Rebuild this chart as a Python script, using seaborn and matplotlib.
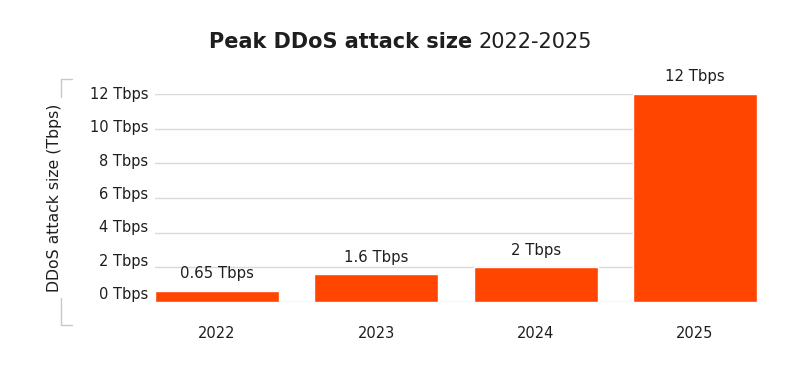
import matplotlib
matplotlib.use("Agg")
import matplotlib.pyplot as plt
import matplotlib.transforms as mtransforms
from matplotlib.lines import Line2D
import seaborn as sns
import pandas as pd

years = ["2022", "2023", "2024", "2025"]
values = [0.65, 1.6, 2, 12]
bar_labels = ["0.65 Tbps", "1.6 Tbps", "2 Tbps", "12 Tbps"]
yticks = [0, 2, 4, 6, 8, 10, 12]
ytick_labels = ["0 Tbps", "2 Tbps", "4 Tbps", "6 Tbps", "8 Tbps", "10 Tbps", "12 Tbps"]

sns.set_style("white")
plt.rcParams['font.family'] = ['DejaVu Sans']
TXT = "#1e1e1e"

df = pd.DataFrame({"year": years, "value": values})

W, H = 800, 369
fig = plt.figure(figsize=(W / 100, H / 100), dpi=100)
ax = fig.add_axes([155 / W, 1 - 302 / H, (757 - 155) / W, (302 - 94) / H])

sns.barplot(data=df, x="year", y="value", color="#FF4500", saturation=1,
            width=0.78, ax=ax, zorder=3)
ax.set_xlim(-0.39, 3.39)
ax.set_ylim(0, 12)
ax.set_yticks(yticks)
ax.set_yticklabels(ytick_labels)
ax.grid(axis="y", color="#d9d9d9", linewidth=1, zorder=0)
ax.set_axisbelow(True)
for s in ax.spines.values():
    s.set_visible(False)
ax.tick_params(axis="both", length=0, labelsize=10.5, colors=TXT)
ax.tick_params(axis="y", pad=5)
ax.tick_params(axis="x", pad=17)
ax.set_xlabel("")

# slight upward shift of tick labels as in reference
for v, lab in zip(yticks, ax.get_yticklabels()):
    shift = (1 + (12 - v) / 12 * 8) / 100
    lab.set_transform(lab.get_transform() + mtransforms.ScaledTranslation(0, shift, fig.dpi_scale_trans))

for i, (v, t) in enumerate(zip(values, bar_labels)):
    ax.annotate(t, (i, v), xytext=(0, 17), textcoords="offset pixels",
                ha="center", va="center", fontsize=10.7, color=TXT, annotation_clip=False)

ax.set_ylabel("DDoS attack size (Tbps)", fontsize=11.3, color=TXT, labelpad=0,
              bbox=dict(facecolor="white", edgecolor="none", pad=4))
ax.yaxis.set_label_coords(62 / W, 1 - 198 / H, transform=fig.transFigure)

# bracket
bc = "#c8c8c8"
x0, x1 = 61 / W, 72 / W
yt, yb = 1 - 79 / H, 1 - 325 / H
for xs, ys in [([x0, x0], [yb, yt]), ([x0, x1], [yt, yt]), ([x0, x1], [yb, yb])]:
    fig.add_artist(Line2D(xs, ys, color=bc, linewidth=1, transform=fig.transFigure, zorder=-1))

# title with bold and regular parts
fig.canvas.draw()
r = fig.canvas.get_renderer()
t1 = fig.text(209 / W, 1 - 42 / H, "Peak DDoS attack size", fontsize=15, fontweight="bold",
              color=TXT, ha="left", va="center")
bb = t1.get_window_extent(renderer=r)
fig.text(bb.x1 / W + 6 / W, 1 - 42 / H, "2022-2025", fontsize=15, color=TXT,
         ha="left", va="center")

fig.savefig("out.png", dpi=100)
